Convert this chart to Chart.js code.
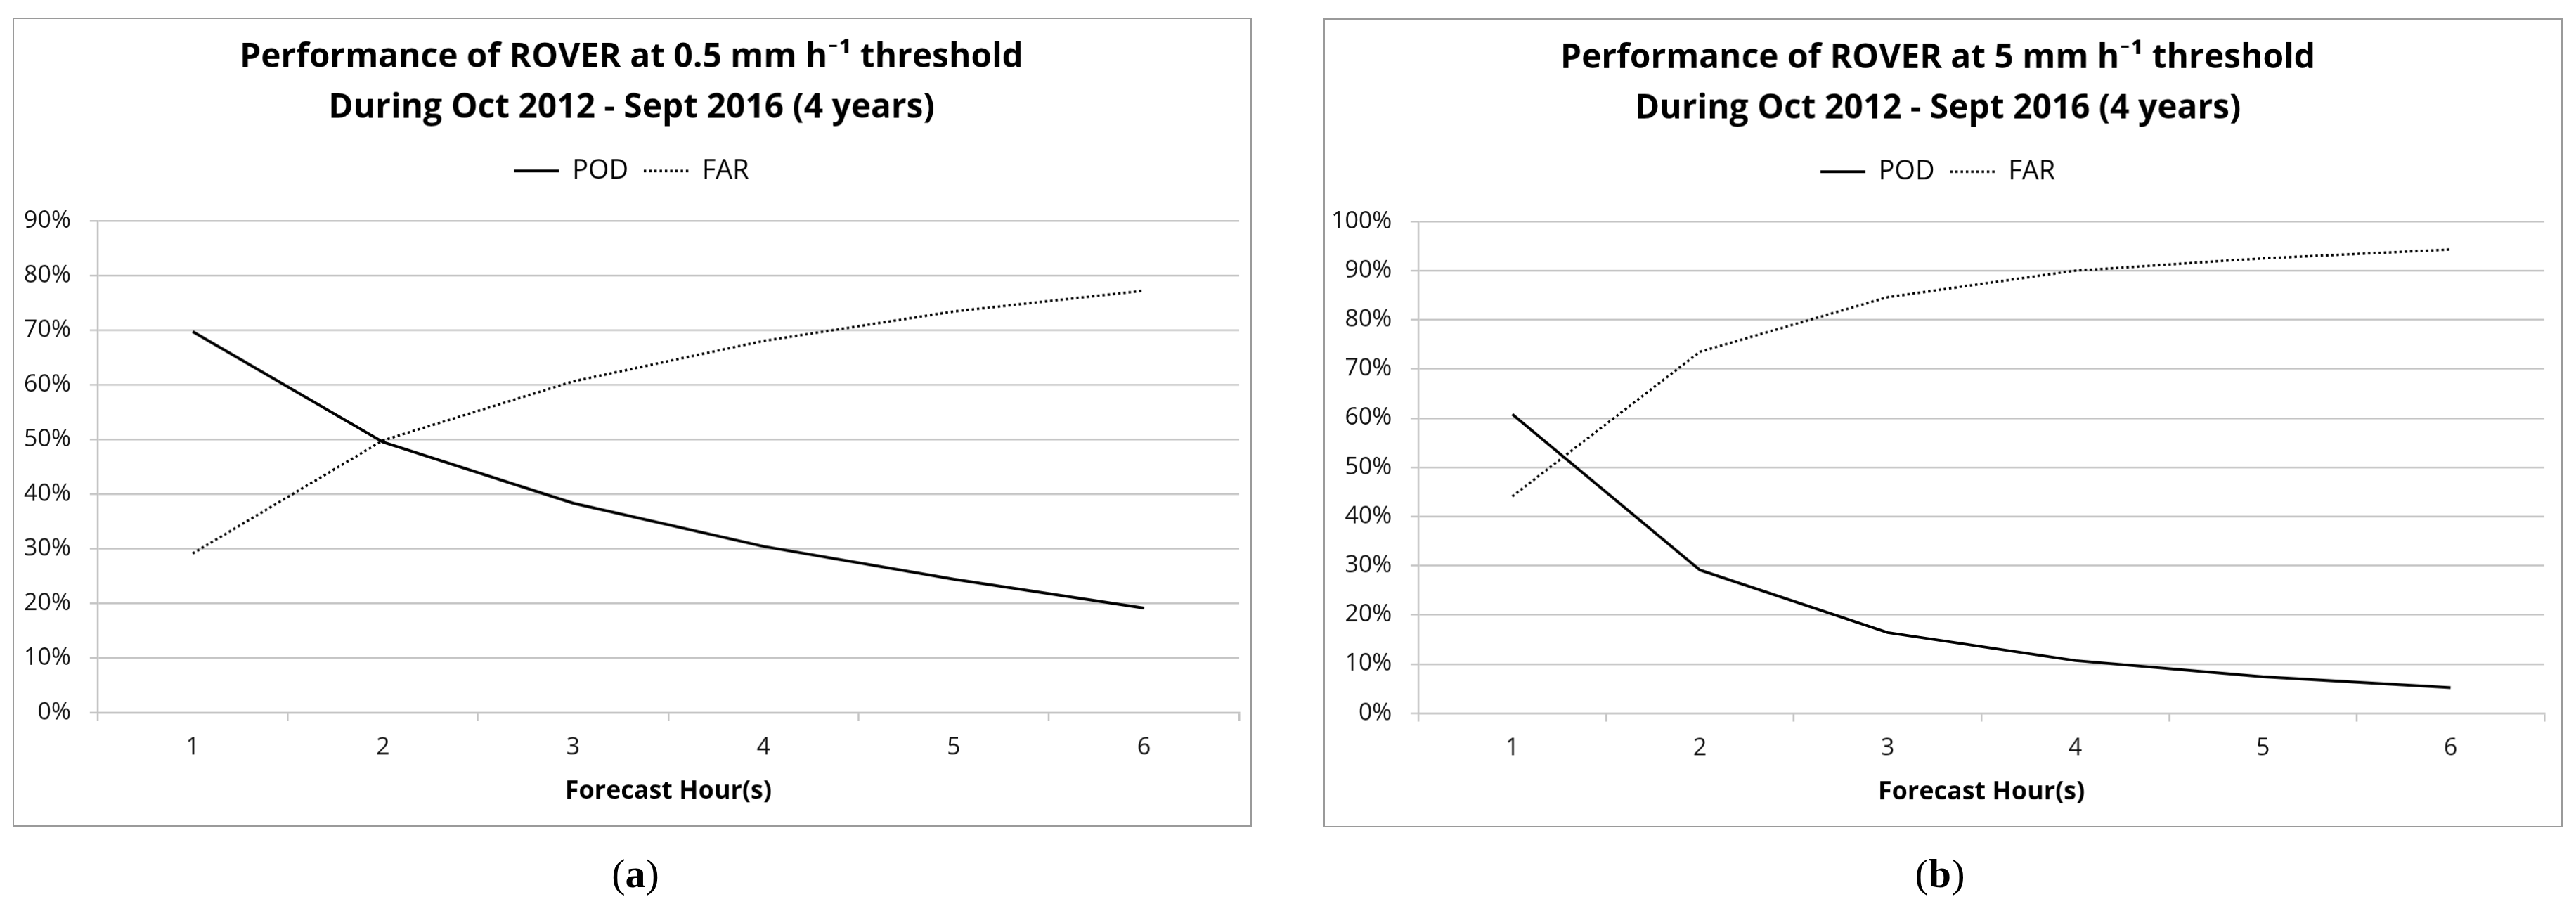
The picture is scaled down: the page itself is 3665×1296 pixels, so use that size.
<!DOCTYPE html>
<html>
<head>
<meta charset="utf-8">
<script src="https://cdn.jsdelivr.net/npm/chart.js@4.4.0/dist/chart.umd.min.js"></script>
<style>
  html, body { margin: 0; padding: 0; background: #fff; }
  body { width: 3665px; height: 1296px; position: relative; overflow: hidden; }
  canvas { position: absolute; border: 2px solid #9a9a9a; background: #fff; }
  .cap { position: absolute; width: 400px; text-align: center; font-family: "Liberation Serif", "DejaVu Serif", serif; font-size: 58px; color: #000; line-height: 70px; }
</style>
</head>
<body>
<canvas id="chartA" width="1763" height="1151" style="left:18px; top:25px;"></canvas>
<canvas id="chartB" width="1763" height="1151" style="left:1883px; top:26px;"></canvas>
<div class="cap" style="left:704px; top:1208px;">(<b>a</b>)</div>
<div class="cap" style="left:2560px; top:1208px;">(<b>b</b>)</div>
<script>
// ---- data ----
const hours = ['1', '2', '3', '4', '5', '6'];
const seriesNames = ['POD', 'FAR'];
const podA = [69.7, 49.5, 38.3, 30.4, 24.4, 19.1];
const farA = [29.1, 49.8, 60.6, 68.0, 73.4, 77.2];
const podB = [60.8, 29.1, 16.4, 10.7, 7.4, 5.2];
const farB = [44.1, 73.5, 84.6, 90.0, 92.5, 94.3];
const titleA = ['Performance of ROVER at 0.5 mm h\u207B\u00B9 threshold', 'During Oct 2012 - Sept 2016 (4 years)'];
const titleB = ['Performance of ROVER at 5 mm h\u207B\u00B9 threshold', 'During Oct 2012 - Sept 2016 (4 years)'];
const xTitle = 'Forecast Hour(s)';
const yMaxA = 90;
const yMaxB = 100;

const FONT = '"Open Sans", Lato, "DejaVu Sans", sans-serif';
const GRID = '#c4c4c4';

const legendGap = {
  id: 'legendGap',
  afterInit(chart, args, opts) {
    const orig = chart.legend.fit;
    chart.legend.fit = function () {
      orig.call(this);
      this.height += opts.extra || 0;
    };
  }
};

function legendLabels(chart) {
  const items = Chart.defaults.plugins.legend.labels.generateLabels(chart);
  items.forEach((it, i) => {
    const ds = chart.data.datasets[i];
    it.lineDash = ds.borderDash || [];
    it.lineWidth = ds.borderWidth;
    it.strokeStyle = ds.borderColor;
    it.pointStyle = 'line';
  });
  return items;
}

function makeChart(id, title, pod, far, yMax, padLeft, padRight) {
  return new Chart(document.getElementById(id), {
    type: 'line',
    data: {
      labels: hours,
      datasets: [
        { label: seriesNames[0], data: pod, borderColor: '#000', backgroundColor: '#000',
          borderWidth: 4, pointRadius: 0, tension: 0, borderCapStyle: 'butt' },
        { label: seriesNames[1], data: far, borderColor: '#000', backgroundColor: '#000',
          borderWidth: 3.5, borderDash: [3.5, 4], pointRadius: 0, tension: 0, borderCapStyle: 'butt' }
      ]
    },
    options: {
      responsive: false,
      animation: false,
      devicePixelRatio: 1,
      layout: { padding: { left: padLeft, right: padRight, top: 0, bottom: 27 } },
      plugins: {
        title: {
          display: true, text: title, color: '#000',
          font: { family: FONT, size: 48, weight: 'bold', lineHeight: 72 / 48 },
          padding: { top: 19, bottom: 13 }
        },
        legend: {
          display: true, position: 'top',
          labels: {
            usePointStyle: true, pointStyle: 'line', pointStyleWidth: 64,
            color: '#000', padding: 22,
            font: { family: FONT, size: 38 },
            generateLabels: legendLabels
          }
        },
        legendGap: { extra: 42 },
        tooltip: { enabled: false }
      },
      scales: {
        x: {
          offset: true,
          grid: { offset: true, display: true, drawOnChartArea: false, drawTicks: true,
                  tickLength: 12, color: GRID, lineWidth: 2.5 },
          border: { display: true, color: GRID, width: 2.5 },
          ticks: { color: '#111', padding: 18, font: { family: FONT, size: 34 } },
          title: { display: true, text: xTitle, color: '#000',
                   font: { family: FONT, size: 36, weight: 'bold' },
                   padding: { top: 2, bottom: 0 } }
        },
        y: {
          min: 0, max: yMax,
          afterFit: s => { s.width -= s.options.ticks.padding; },
          grid: { color: GRID, lineWidth: 2.5, tickLength: 11, drawTicks: true },
          border: { display: true, color: GRID, width: 2.5 },
          ticks: { stepSize: 10, color: '#111', padding: 27,
                   font: { family: FONT, size: 34 },
                   callback: v => v + '%' }
        }
      }
    },
    plugins: [legendGap]
  });
}

makeChart('chartA', titleA, podA, farA, yMaxA, 14, 16);
makeChart('chartB', titleB, podB, farB, yMaxB, 9, 24);
</script>
</body>
</html>
